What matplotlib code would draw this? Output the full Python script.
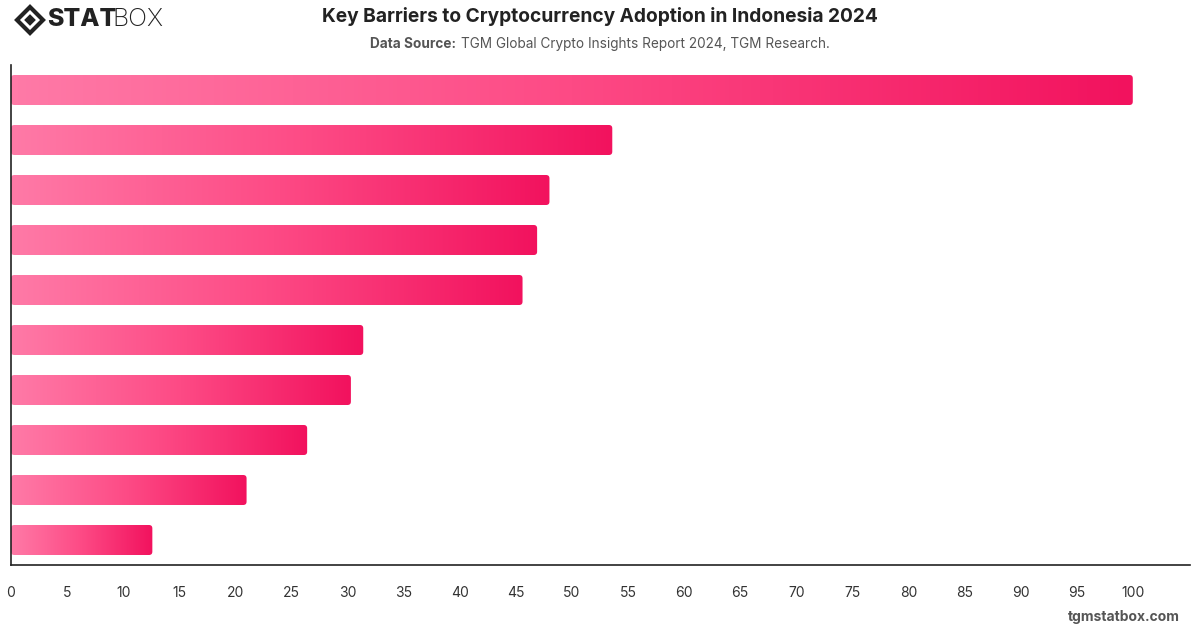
import numpy as np
import matplotlib.pyplot as plt
from matplotlib.patches import FancyBboxPatch, Polygon
from matplotlib.colors import LinearSegmentedColormap

plt.rcParams["font.family"] = ["Inter", "DejaVu Sans"]

# bar values, top to bottom (category labels are not shown in the chart)
values = [100, 53.6, 48.0, 46.9, 45.6, 31.4, 30.3, 26.4, 21.0, 12.6]
x_ticks = list(range(0, 101, 5))

title = "Key Barriers to Cryptocurrency Adoption in Indonesia 2024"
source = "TGM Global Crypto Insights Report 2024, TGM Research."

fig = plt.figure(figsize=(12, 6.28), dpi=100)
ax = fig.add_axes([11 / 1200, 1 - 565 / 628, 1179 / 1200, 500 / 628])

cmap = LinearSegmentedColormap.from_list("pink", ["#ff7aa7", "#fd4a85", "#f2125e"])
grad = np.linspace(0, 1, 256).reshape(1, -1)

bar_h = 0.6
for i, v in enumerate(values):
    y0 = i - bar_h / 2
    patch = FancyBboxPatch((0, y0), v, bar_h,
                           boxstyle="round,pad=0,rounding_size=0.3",
                           mutation_aspect=0.224, facecolor="none",
                           edgecolor="none")
    ax.add_patch(patch)
    im = ax.imshow(grad, cmap=cmap, aspect="auto",
                   extent=(0, v, y0 + bar_h, y0), interpolation="bilinear")
    im.set_clip_path(patch)

ax.set_xlim(0, 105.1)
ax.set_ylim(9.5, -0.5)
ax.set_xticks(x_ticks)
ax.set_xticklabels([str(t) for t in x_ticks])
ax.set_yticks([])
ax.tick_params(axis="x", length=0, pad=15, labelsize=10, labelcolor="#333333")
for s in ["top", "right"]:
    ax.spines[s].set_visible(False)
for s in ["left", "bottom"]:
    ax.spines[s].set_color("#222222")
    ax.spines[s].set_linewidth(1.2)

# title and subtitle
fig.text(0.5, 1 - 17 / 628, title, ha="center", va="center",
         fontsize=13.8, fontweight="bold", color="#222222")
fig.text(370 / 1200, 1 - 44 / 628, "Data Source:", ha="left", va="center",
         fontsize=9.8, fontweight="bold", color="#555555")
fig.text(461 / 1200, 1 - 44 / 628, source, ha="left", va="center",
         fontsize=9.8, color="#555555")

# logo
lx, ly = 30 / 1200, 1 - 20 / 628
dx, dy = 13 / 1200, 13 / 628
fig.patches.append(Polygon([(lx - dx, ly), (lx, ly + dy), (lx + dx, ly), (lx, ly - dy)],
                           closed=True, transform=fig.transFigure,
                           facecolor="none", edgecolor="#222222", linewidth=3))
fig.patches.append(Polygon([(lx - dx * 0.45, ly), (lx, ly + dy * 0.45),
                            (lx + dx * 0.45, ly), (lx, ly - dy * 0.45)],
                           closed=True, transform=fig.transFigure,
                           facecolor="#222222", edgecolor="none"))
fig.text(47 / 1200, ly, "STAT", ha="left", va="center", fontsize=18,
         fontweight="heavy", color="#222222")
fig.text(112 / 1200, ly, "BOX", ha="left", va="center", fontsize=18,
         fontweight="light", color="#222222")

fig.text(1180 / 1200, 1 - 617 / 628, "tgmstatbox.com", ha="right", va="center",
         fontsize=10, fontweight="bold", color="#555555")

fig.savefig("out.png", dpi=100)
